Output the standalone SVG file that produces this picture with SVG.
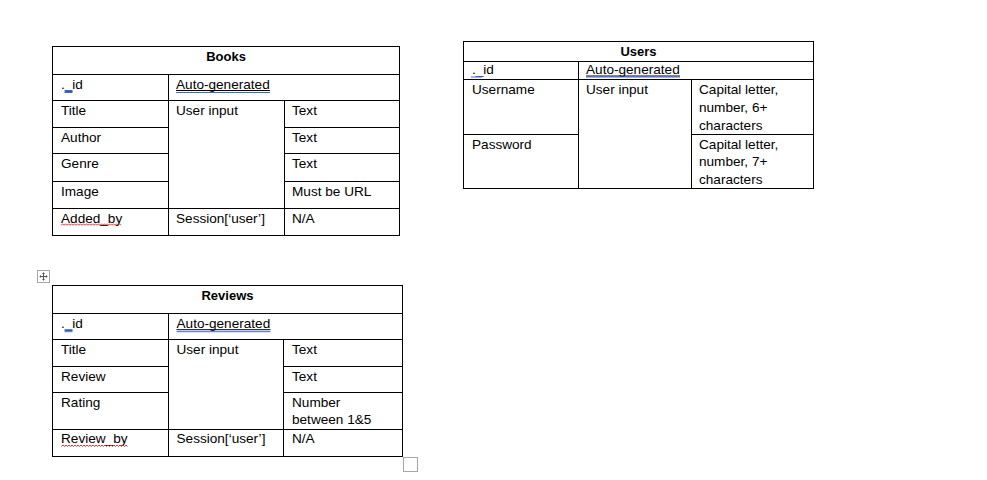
<svg xmlns="http://www.w3.org/2000/svg" width="987" height="480" viewBox="0 0 987 480">
<style>
.grid{stroke:#000;stroke-width:1;fill:none}
.t{font-family:"Liberation Sans",Arial,sans-serif;font-size:13.6px;fill:#000}
.h{font-family:"Liberation Sans",Arial,sans-serif;font-size:13px;font-weight:bold;fill:#000;text-anchor:middle}
.ul{stroke:#000;stroke-width:1}
.bl{stroke:#3a6ad6;stroke-width:1}
.sq{stroke:#e02020;stroke-width:0.9;fill:none}
.ico{stroke:#a6a6a6;stroke-width:1;fill:#fff}
</style>
<rect width="987" height="480" fill="#fff"/>

<g id="books">
  <rect class="grid" x="52.5" y="46.5" width="347" height="189"/>
  <path class="grid" d="M52.5 74.5H399.5M52.5 100.5H399.5M52.5 208.5H399.5M52.5 127.5H168.5M284.5 127.5H399.5M52.5 153.5H168.5M284.5 153.5H399.5M52.5 181.5H168.5M284.5 181.5H399.5M168.5 74.5V235.5M284.5 100.5V235.5"/>
  <text class="h" x="226" y="60.7">Books</text>
  <text class="t" x="61" y="88.5">.<tspan fill="#1f3f9f">_</tspan>id</text>
  <line class="bl" x1="64.5" y1="90.5" x2="72.5" y2="90.5"/>
  <line class="bl" x1="64.5" y1="92.5" x2="72.5" y2="92.5"/>
  <text class="t" x="176" y="88.5">Auto-generated</text>
  <line class="ul" x1="176" y1="90.5" x2="270" y2="90.5"/>
  <line class="bl" x1="176" y1="92.5" x2="270" y2="92.5"/>
  <text class="t" x="61" y="115">Title</text>
  <text class="t" x="176" y="115">User input</text>
  <text class="t" x="292" y="115">Text</text>
  <text class="t" x="61" y="141.5">Author</text>
  <text class="t" x="292" y="141.5">Text</text>
  <text class="t" x="61" y="168">Genre</text>
  <text class="t" x="292" y="168">Text</text>
  <text class="t" x="61" y="195.5">Image</text>
  <text class="t" x="292" y="195.5">Must be URL</text>
  <text class="t" x="61" y="222.5">Added_by</text>
  <path class="sq" d="M61 225.3l1.5-1.5l1.5 1.5l1.5-1.5l1.5 1.5l1.5-1.5l1.5 1.5l1.5-1.5l1.5 1.5l1.5-1.5l1.5 1.5l1.5-1.5l1.5 1.5l1.5-1.5l1.5 1.5l1.5-1.5l1.5 1.5l1.5-1.5l1.5 1.5l1.5-1.5l1.5 1.5l1.5-1.5l1.5 1.5l1.5-1.5l1.5 1.5l1.5-1.5l1.5 1.5l1.5-1.5l1.5 1.5l1.5-1.5l1.5 1.5l1.5-1.5l1.5 1.5l1.5-1.5l1.5 1.5l1.5-1.5l1.5 1.5l1.5-1.5l1.5 1.5l1.5-1.5l1.5 1.5"/>
  <text class="t" x="176" y="222.5">Session[‘user’]</text>
  <text class="t" x="292" y="222.5">N/A</text>
</g>

<g id="users">
  <rect class="grid" x="463.5" y="41.5" width="350" height="147"/>
  <path class="grid" d="M463.5 61.5H813.5M463.5 79.5H813.5M463.5 134.5H578.5M691.5 134.5H813.5M578.5 61.5V188.5M691.5 79.5V188.5"/>
  <text class="h" x="638.5" y="55.7">Users</text>
  <text class="t" x="472" y="74.3">.<tspan fill="#1f3f9f">_</tspan>id</text>
  <line class="bl" x1="471" y1="77" x2="482" y2="77"/>
  <text class="t" x="586" y="74.3">Auto-generated</text>
  <line class="ul" x1="586" y1="76" x2="680" y2="76"/>
  <line class="bl" x1="586" y1="77" x2="680" y2="77"/>
  <text class="t" x="472" y="94">Username</text>
  <text class="t" x="586" y="94">User input</text>
  <text class="t" x="699" y="94">Capital letter,</text>
  <text class="t" x="699" y="112">number, 6+</text>
  <text class="t" x="699" y="130">characters</text>
  <text class="t" x="472" y="148.5">Password</text>
  <text class="t" x="699" y="148.5">Capital letter,</text>
  <text class="t" x="699" y="166.3">number, 7+</text>
  <text class="t" x="699" y="184">characters</text>
</g>

<g id="reviews">
  <rect class="grid" x="52.5" y="285.5" width="350" height="171"/>
  <path class="grid" d="M52.5 313.5H402.5M52.5 339.5H402.5M52.5 429.5H402.5M52.5 366.5H168.5M283.5 366.5H402.5M52.5 392.5H168.5M283.5 392.5H402.5M168.5 313.5V456.5M283.5 339.5V456.5"/>
  <text class="h" x="227.5" y="299.5">Reviews</text>
  <text class="t" x="61" y="327.7">.<tspan fill="#1f3f9f">_</tspan>id</text>
  <line class="bl" x1="64.5" y1="329.7" x2="72.5" y2="329.7"/>
  <line class="bl" x1="64.5" y1="331.7" x2="72.5" y2="331.7"/>
  <text class="t" x="176.5" y="327.7">Auto-generated</text>
  <line class="ul" x1="176.5" y1="329.7" x2="270.5" y2="329.7"/>
  <line class="bl" x1="176.5" y1="331.7" x2="270.5" y2="331.7"/>
  <text class="t" x="61" y="354">Title</text>
  <text class="t" x="176.5" y="354">User input</text>
  <text class="t" x="292" y="354">Text</text>
  <text class="t" x="61" y="380.7">Review</text>
  <text class="t" x="292" y="380.7">Text</text>
  <text class="t" x="61" y="406.7">Rating</text>
  <text class="t" x="292" y="406.7">Number</text>
  <text class="t" x="292" y="424.3">between 1&amp;5</text>
  <text class="t" x="61" y="443.3">Review_by</text>
  <path class="sq" d="M61.5 446.5l1.5-1.5l1.5 1.5l1.5-1.5l1.5 1.5l1.5-1.5l1.5 1.5l1.5-1.5l1.5 1.5l1.5-1.5l1.5 1.5l1.5-1.5l1.5 1.5l1.5-1.5l1.5 1.5l1.5-1.5l1.5 1.5l1.5-1.5l1.5 1.5l1.5-1.5l1.5 1.5l1.5-1.5l1.5 1.5l1.5-1.5l1.5 1.5l1.5-1.5l1.5 1.5l1.5-1.5l1.5 1.5l1.5-1.5l1.5 1.5l1.5-1.5l1.5 1.5l1.5-1.5l1.5 1.5l1.5-1.5l1.5 1.5l1.5-1.5l1.5 1.5l1.5-1.5l1.5 1.5l1.5-1.5l1.5 1.5l1.5-1.5l1.5 1.5"/>
  <text class="t" x="176.5" y="443.3">Session[‘user’]</text>
  <text class="t" x="292" y="443.3">N/A</text>
</g>

<g id="move-handle">
  <rect class="ico" x="37.5" y="270.5" width="12" height="12"/>
  <path d="M40 276.5H47M43.5 273V280" stroke="#555" stroke-width="1" fill="none"/>
  <path d="M43.5 272.3L42 274H45ZM43.5 280.7L42 279H45ZM39.3 276.5L41 275V278ZM47.7 276.5L46 275V278Z" fill="#555"/>
</g>
<g id="resize-handle">
  <rect class="ico" x="403.5" y="457.5" width="14" height="14"/>
</g>
<g id="connectors"/>
</svg>
